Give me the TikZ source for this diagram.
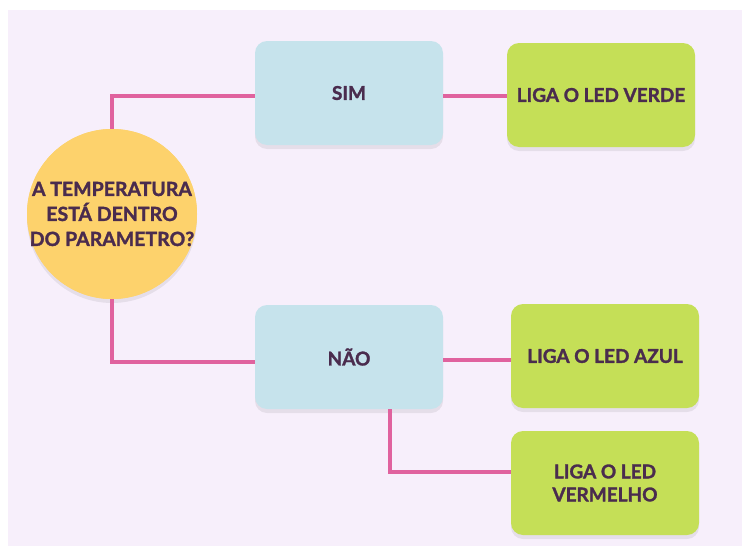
\documentclass[tikz,border=0pt]{standalone}
\usepackage{fontspec}
\setmainfont{Lato}[BoldFeatures={FakeBold=1.5}]
\definecolor{bgl}{HTML}{F7EFFB}
\definecolor{boxblue}{HTML}{C6E3EC}
\definecolor{boxgreen}{HTML}{C5DF57}
\definecolor{circyel}{HTML}{FDD26C}
\definecolor{linkpink}{HTML}{E0629E}
\definecolor{txt}{HTML}{4A2C4E}
\begin{document}
\begin{tikzpicture}[x=1pt,y=-1pt,
  card/.style={rounded corners=12pt, minimum width=188pt, minimum height=104pt,
    inner sep=0pt, font=\bfseries\fontsize{19}{23}\selectfont, text=txt, align=center},
  bluecard/.style={card, fill=boxblue},
  greencard/.style={card, fill=boxgreen},
  shadowed/.style={preaction={fill=black, opacity=0.07, transform canvas={yshift=-4pt}}},
  decision/.style={circle, fill=circyel, minimum size=170pt, inner sep=-12pt, text=txt, align=center,
    font=\bfseries\fontsize{19.5}{25}\selectfont},
  link/.style={draw=linkpink, line width=3.5pt}]
\useasboundingbox (0,0) rectangle (742,546);
\fill[white] (0,0) rectangle (742,546);
\fill[bgl] (8,10) rectangle (742,546);
\node[decision, shadowed] (q) at (112,214) {A TEMPERATURA\\ESTÁ DENTRO\\DO PARAMETRO?};
\node[bluecard, shadowed] (sim) at (349,93) {SIM};
\node[greencard, shadowed] (verde) at (601,95) {LIGA O LED VERDE};
\node[bluecard, shadowed] (nao) at (349,357) {NÃO};
\node[greencard, shadowed] (azul) at (605,356) {LIGA O LED AZUL};
\node[greencard, shadowed] (verm) at (605,483) {LIGA O LED\\VERMELHO};
\path[link] (q.north) |- ([yshift=-3pt]sim.west);
\path[link] ([yshift=-3pt]sim.east) -- ([yshift=-3pt]sim.east -| verde.west);
\path[link] (q.south) |- ([yshift=-5pt]nao.west);
\path[link] ([yshift=-3pt]nao.east) -- ([yshift=-3pt]nao.east -| azul.west);
\path[link] ([xshift=41pt]nao.south) |- ([yshift=11pt]verm.west);
\node[decision] at (q) {A TEMPERATURA\\ESTÁ DENTRO\\DO PARAMETRO?};
\end{tikzpicture}
\end{document}
